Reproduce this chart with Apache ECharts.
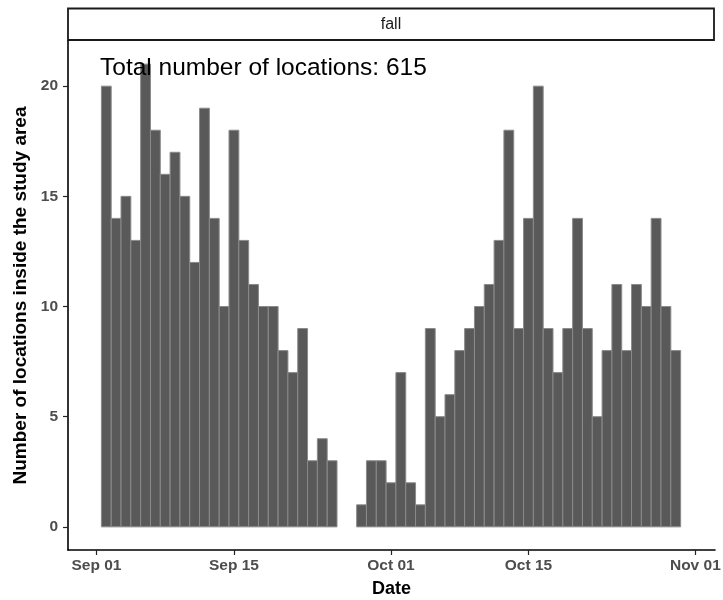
<!DOCTYPE html>
<html>
<head>
<meta charset="utf-8">
<script src="https://cdn.jsdelivr.net/npm/echarts@6/dist/echarts.min.js"></script>
<style>html,body{margin:0;padding:0;background:#fff}#c{width:723px;height:600px}</style>
</head>
<body>
<div id="c"></div>
<script>
// Daily bins, starting at day offset 0.5 from Sep 01 (bin width 1 day)
const dayLabels = ['Sep 01','Sep 02','Sep 03','Sep 04','Sep 05','Sep 06','Sep 07','Sep 08','Sep 09','Sep 10',
  'Sep 11','Sep 12','Sep 13','Sep 14','Sep 15','Sep 16','Sep 17','Sep 18','Sep 19','Sep 20',
  'Sep 21','Sep 22','Sep 23','Sep 24','Sep 25','Sep 26','Sep 27','Sep 28','Sep 29','Sep 30',
  'Oct 01','Oct 02','Oct 03','Oct 04','Oct 05','Oct 06','Oct 07','Oct 08','Oct 09','Oct 10',
  'Oct 11','Oct 12','Oct 13','Oct 14','Oct 15','Oct 16','Oct 17','Oct 18','Oct 19','Oct 20',
  'Oct 21','Oct 22','Oct 23','Oct 24','Oct 25','Oct 26','Oct 27','Oct 28','Oct 29'];
const counts = [20,14,15,13,21,18,16,17,15,12,19,14,10,18,13,11,10,10,8,7,9,3,4,3,
  0,0,
  1,3,3,2,7,2,1,9,5,6,8,9,10,11,13,18,9,14,20,9,7,9,14,9,5,8,11,8,11,10,14,10,8];
const xTickDays = [0,14,30,44,61];
const xTickLabels = ['Sep 01','Sep 15','Oct 01','Oct 15','Nov 01'];
const yTicks = [0,5,10,15,20];
const facetLabel = 'fall';
const annotation = 'Total number of locations: 615';
const xTitle = 'Date';
const yTitle = 'Number of locations inside the study area';

const binOffset = 0.5;
const FONT = '"Liberation Sans", Arial, sans-serif';
const data = counts.map((v, i) => [i + binOffset, i + binOffset + 1, v]);

const chart = echarts.init(document.getElementById('c'), null, {renderer: 'canvas'});
chart.setOption({
  animation: false,
  backgroundColor: '#ffffff',
  grid: {left: 68, right: 8, top: 41, bottom: 50, containLabel: false, outerBoundsMode: 'none'},
  xAxis: {
    type: 'value', min: -2.9, max: 63.0,
    name: xTitle, nameLocation: 'middle', nameGap: 30,
    nameTextStyle: {fontFamily: FONT, fontWeight: 'bold', fontSize: 18, color: '#000'},
    axisLine: {show: true, onZero: false, lineStyle: {color: '#000', width: 1.6}},
    axisTick: {show: true, length: 5, customValues: xTickDays, lineStyle: {color: '#222', width: 1.2}},
    axisLabel: {show: true, margin: 8, customValues: xTickDays, fontFamily: FONT, fontWeight: 'bold', fontSize: 15.5, color: '#4d4d4d',
      formatter: v => xTickLabels[xTickDays.indexOf(v)]},
    splitLine: {show: false}
  },
  yAxis: {
    type: 'value', min: -1.05, max: 22.05,
    name: yTitle, nameLocation: 'middle', nameGap: 38,
    nameTextStyle: {fontFamily: FONT, fontWeight: 'bold', fontSize: 19, color: '#000'},
    axisLine: {show: true, onZero: false, lineStyle: {color: '#000', width: 1.6}},
    axisTick: {show: true, length: 5, customValues: yTicks, lineStyle: {color: '#222', width: 1.2}},
    axisLabel: {show: true, margin: 10, customValues: yTicks, fontFamily: FONT, fontWeight: 'bold', fontSize: 15.5, color: '#4d4d4d'},
    splitLine: {show: false}
  },
  graphic: [
    {type: 'rect', shape: {x: 68, y: 8.5, width: 646, height: 31.5},
     style: {fill: '#fff', stroke: '#1a1a1a', lineWidth: 1.8}},
    {type: 'text', x: 391, y: 25, style: {text: facetLabel, font: '16px ' + FONT, fill: '#1a1a1a', textAlign: 'center', textVerticalAlign: 'middle'}},
    {type: 'text', x: 100, y: 68, style: {text: annotation, font: '24.5px ' + FONT, fill: '#000', textAlign: 'left', textVerticalAlign: 'middle'}, z: 100}
  ],
  series: [{
    type: 'custom',
    data: data,
    encode: {x: [0, 1], y: 2},
    renderItem: function (params, api) {
      const v = api.value(2);
      if (!v) return null;
      const p1 = api.coord([api.value(0), v]);
      const p2 = api.coord([api.value(1), 0]);
      return {
        type: 'rect',
        shape: {x: p1[0], y: p1[1], width: p2[0] - p1[0], height: p2[1] - p1[1]},
        style: {fill: '#595959', stroke: '#8a8a8a', lineWidth: 1}
      };
    }
  }]
});
</script>
</body>
</html>
